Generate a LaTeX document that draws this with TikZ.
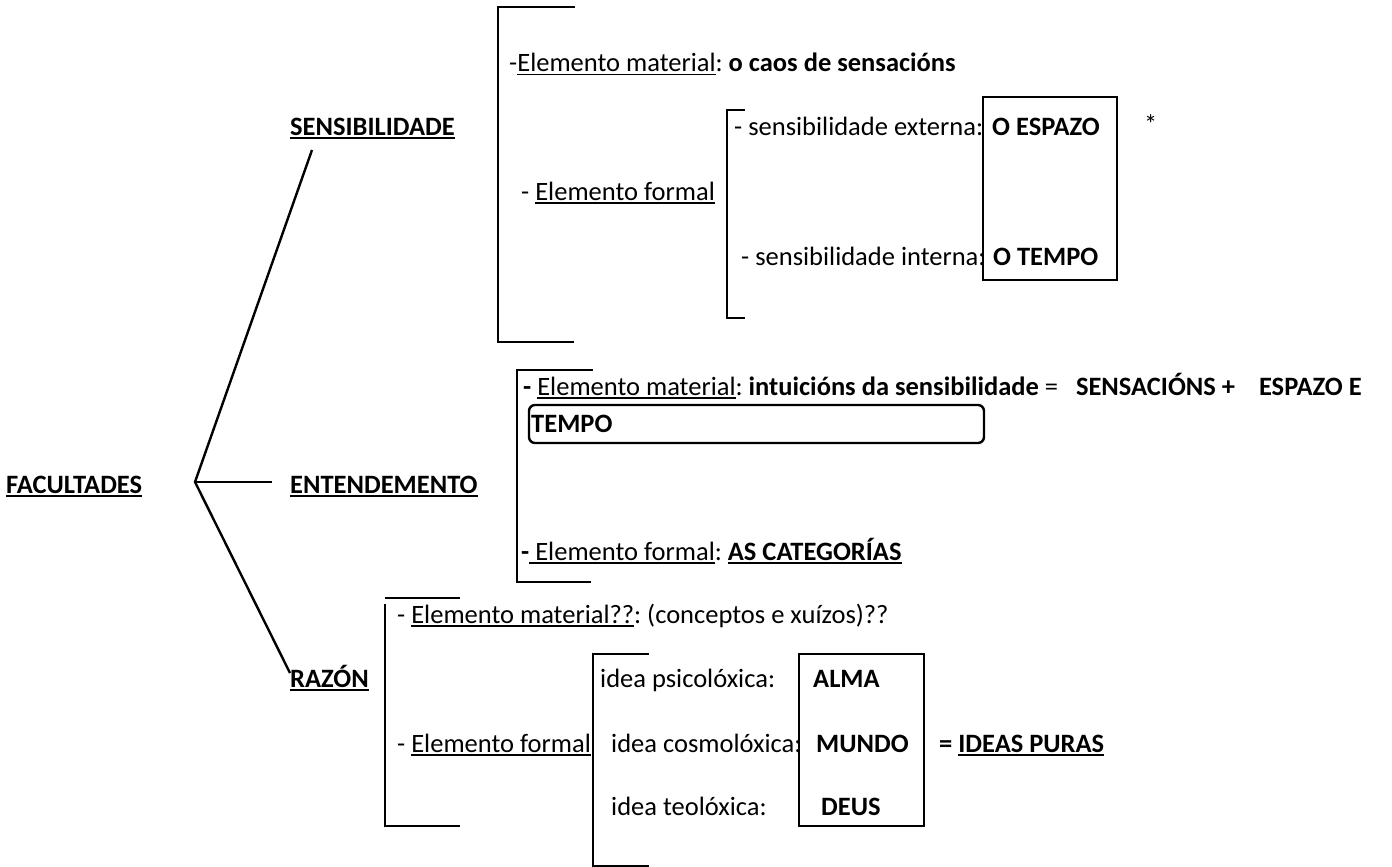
\documentclass[tikz,border=0pt]{standalone}
\usepackage{fontspec}
\setmainfont{Carlito}
\usetikzlibrary{positioning}
\frenchspacing

% underline at a fixed depth, as a word processor does
\newcommand{\uln}[1]{\setbox0=\hbox{#1}\rlap{\rule[-3.5pt]{\wd0}{1.8pt}}\box0}

\begin{document}
\begin{tikzpicture}[x=1pt, y=-1pt, line width=2.4pt,
    txt/.style={anchor=base west, inner sep=0pt, font=\fontsize{26.5}{32}\selectfont},
    head/.style={txt, font=\fontsize{26.5}{32}\selectfont\bfseries}]
    \useasboundingbox (0,0) rectangle (1392,867);

    % faculties and the branching lines
    \node[head] (fac) at (5,493) {\uln{FACULTADES}};
    \node[head] (sens) at (289,135) {\uln{SENSIBILIDADE}};
    \node[head] (ent) at (289,493) {\uln{ENTENDEMENTO}};
    \node[head] (raz) at (289,687) {\uln{RAZÓN}};
    \coordinate (fork) at (195,482);
    \coordinate (sensend) at (312,150);
    \coordinate (entend) at (272,482);
    \coordinate (razend) at (290,673);
    \draw (sensend) -- (fork) -- (razend);
    \draw (fork) -- (entend);

    % sensibilidade
    \draw (575,7) -- (498,7) -- (498,342) -- (574,342);
    \node[txt] (smat) at (508,72) {-\uln{Elemento material}: \textbf{o caos de sensacións}};
    \node[txt] (sform) at (520,200) {- \uln{Elemento formal}};
    \draw (745,110) -- (727,110) -- (727,318) -- (745,318);
    \node[txt] (sext) at (733,135) {- sensibilidade externa:};
    \node[txt] (sint) at (740,265) {- sensibilidade interna:};
    \draw (983,97) rectangle (1117,280);
    \node[head] (esp) at (991,135) {O ESPAZO};
    \node[head] (tem) at (992,265) {O TEMPO};
    \node[txt] (star) at (1143,133) {*};

    % entendemento
    \draw (593,370) -- (517,370) -- (517,582) -- (591,582);
    \node[txt] (emat) at (522,395) {\textbf{-} \uln{Elemento material}: \textbf{intuicións da sensibilidade} =\ \ \ \textbf{SENSACIÓNS +\ \ \ \ ESPAZO E}};
    \node[head] (etempo) at (530,432) {TEMPO};
    \draw[rounded corners=6pt] (529,405) rectangle (984,443);
    \node[txt] (eform) at (520,560) {\textbf{-}\uln{ Elemento formal}: \textbf{\uln{AS CATEGORÍAS}}};

    % razon
    \draw (385,598) -- (460,598);
    \draw (385,604) -- (385,826) -- (460,826);
    \node[txt] (rmat) at (396,623) {- \uln{Elemento material??}: (conceptos e xuízos)??};
    \node[txt] (rform) at (396,752) {- \uln{Elemento formal}};
    \draw (649,654) -- (593,654) -- (593,866) -- (649,866);
    \node[txt] (psi) at (599,687) {idea psicolóxica:};
    \node[txt] (cos) at (610,752) {idea cosmolóxica:};
    \node[txt] (teo) at (610,815) {idea teolóxica:};
    \draw (799,654) rectangle (924,826);
    \node[head] (alma) at (812,687) {ALMA};
    \node[head] (mundo) at (815,752) {MUNDO};
    \node[head] (deus) at (820,815) {DEUS};
    \node[head] (puras) at (938,752) {= \uln{IDEAS PURAS}};
\end{tikzpicture}
\end{document}
